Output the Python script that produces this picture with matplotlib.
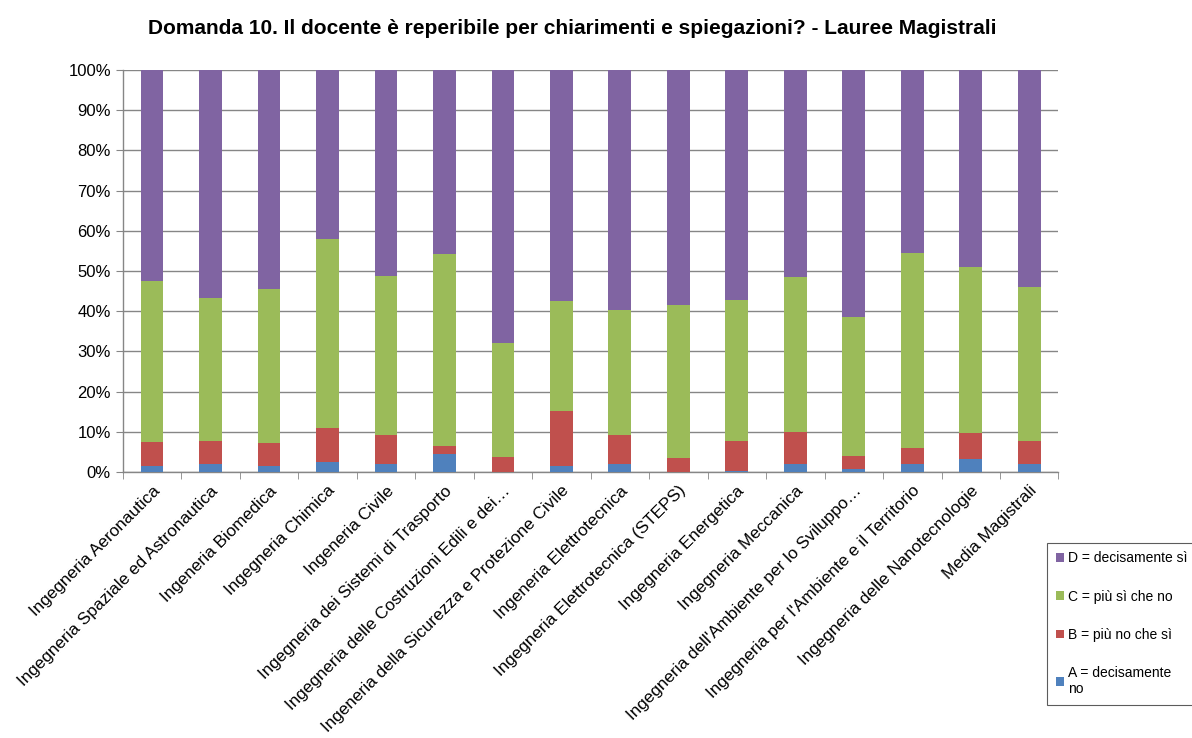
import matplotlib
matplotlib.use("Agg")
import matplotlib.pyplot as plt
import numpy as np
from matplotlib.ticker import FixedLocator, PercentFormatter

plt.rcParams['font.family'] = ['Liberation Sans', 'DejaVu Sans']

categories = [
    "Ingegneria Aeronautica",
    "Ingegneria Spaziale ed Astronautica",
    "Ingeneria Biomedica",
    "Ingegneria Chimica",
    "Ingeneria Civile",
    "Ingegneria dei Sistemi di Trasporto",
    "Ingegneria delle Costruzioni Edili e dei…",
    "Ingeneria della Sicurezza e Protezione Civile",
    "Ingeneria Elettrotecnica",
    "Ingegneria Elettrotecnica (STEPS)",
    "Ingegneria Energetica",
    "Ingegneria Meccanica",
    "Ingegneria dell'Ambiente per lo Sviluppo…",
    "Ingegneria per l'Ambiente e il Territorio",
    "Ingegneria delle Nanotecnologie",
    "Media Magistrali",
]

# cumulative tops (percent)
a_vals = [1.6, 2.0, 1.5, 2.6, 2.0, 4.4, 0.0, 1.6, 1.9, 0.0, 0.3, 1.9, 0.7, 1.9, 3.2, 1.9]
ab_top = [7.5, 7.8, 7.3, 10.9, 9.1, 6.5, 3.8, 15.1, 9.1, 3.6, 7.8, 9.9, 4.1, 6.0, 9.7, 7.8]
abc_top = [47.5, 43.3, 45.5, 58.0, 48.8, 54.3, 32.0, 42.5, 40.4, 41.5, 42.8, 48.5, 38.5, 54.5, 51.0, 46.0]

a = np.array(a_vals)
b = np.array(ab_top) - a
c = np.array(abc_top) - np.array(ab_top)
d = 100 - np.array(abc_top)

series_labels = ["A = decisamente\nno", "B = più no che sì", "C = più sì che no", "D = decisamente sì"]
colors = ["#4F81BD", "#C0504D", "#9BBB59", "#8064A2"]

fig = plt.figure(figsize=(11.92, 7.38), dpi=100)
ax = fig.add_axes([0.103, 0.3604, 0.785, 0.5447])

x = np.arange(len(categories))
w = 0.39
bottom = np.zeros(len(categories))
handles = []
for vals, lab, col in zip([a, b, c, d], series_labels, colors):
    h = ax.bar(x, vals, w, bottom=bottom, color=col, label=lab, zorder=3)
    handles.append(h)
    bottom += vals

ax.set_xlim(-0.5, len(categories) - 0.5)
ax.set_ylim(0, 100)
ax.set_yticks(np.arange(0, 101, 10))
ax.yaxis.set_major_formatter(PercentFormatter(decimals=0))
ax.grid(axis='y', color='#868686', linewidth=1.0, zorder=0)
ax.spines['top'].set_visible(False)
ax.spines['right'].set_visible(False)
for s in ['left', 'bottom']:
    ax.spines[s].set_color('#868686')
    ax.spines[s].set_linewidth(1.0)

ax.set_xticks(x)
ax.set_xticklabels(categories, rotation=45, ha='right', rotation_mode='anchor', fontsize=12.3)
ax.tick_params(axis='x', which='major', length=0, pad=8)
ax.xaxis.set_minor_locator(FixedLocator(np.arange(-0.5, len(categories), 1.0)))
ax.tick_params(axis='x', which='minor', length=5, color='#868686', direction='out')
ax.tick_params(axis='y', length=5, color='#868686', labelsize=12)

fig.text(0.48, 0.962, "Domanda 10. Il docente è reperibile per chiarimenti e spiegazioni? - Lauree Magistrali",
         ha='center', va='center', fontsize=15, fontweight='bold')

leg = fig.legend(handles[::-1], series_labels[::-1], loc='upper left',
                 bbox_to_anchor=(0.875, 0.27), fontsize=10, frameon=True,
                 fancybox=False, edgecolor='#333333', handlelength=0.6, handleheight=0.6,
                 handletextpad=0.3, labelspacing=1.75, borderpad=0.6, borderaxespad=0.3)
leg.get_frame().set_linewidth(0.8)

fig.savefig("out.png", dpi=100)
